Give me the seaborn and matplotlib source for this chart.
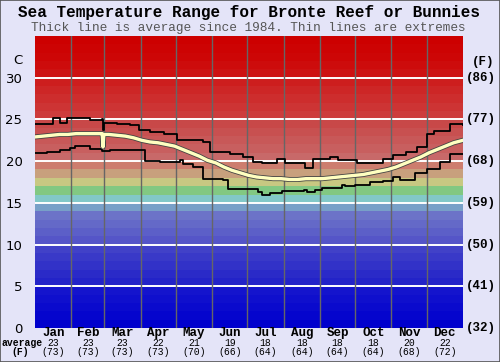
import matplotlib
matplotlib.use("Agg")
import matplotlib.pyplot as plt
import matplotlib.patheffects as pe
from matplotlib.patches import Rectangle
import seaborn as sns
import pandas as pd

# ---------------- data ----------------
months = ["Jan", "Feb", "Mar", "Apr", "May", "Jun", "Jul", "Aug", "Sep", "Oct", "Nov", "Dec"]
month_avg_c = [23, 23, 23, 22, 21, 19, 18, 18, 18, 18, 20, 22]
month_avg_f = [73, 73, 73, 73, 70, 66, 64, 64, 64, 64, 68, 72]
month_days = [31, 28, 31, 30, 31, 30, 31, 31, 30, 31, 30, 31]

c_ticks = [0, 5, 10, 15, 20, 25, 30]
f_labels = ["(32)", "(41)", "(50)", "(59)", "(68)", "(77)", "(86)"]

# average (thick line): day of year, deg C
mean_day = [0, 7, 14, 21, 28, 35, 42, 49, 56, 57.3, 58, 58.7, 63, 70, 77, 84, 91, 98, 105, 112,
            119, 126, 133, 140, 147, 154, 161, 168, 175, 182, 189, 196, 203, 210, 217,
            224, 231, 238, 245, 252, 259, 266, 273, 280, 287, 294, 301, 308, 315, 322,
            329, 336, 343, 350, 357, 365]
mean_c = [22.9, 23.0, 23.1, 23.2, 23.2, 23.3, 23.3, 23.3, 23.3, 23.3, 21.7, 23.2, 23.2, 23.1,
          23.0, 22.8, 22.5, 22.3, 22.2, 22.0, 21.8, 21.4, 21.0, 20.6, 20.1, 19.8, 19.3,
          18.9, 18.6, 18.3, 18.1, 18.0, 17.9, 17.9, 17.8, 17.8, 17.9, 17.9, 17.9, 18.0,
          18.1, 18.2, 18.3, 18.4, 18.6, 18.8, 19.0, 19.3, 19.7, 20.1, 20.5, 21.0, 21.4,
          21.8, 22.2, 22.5]

# maximum (upper thin line), stepped
max_day = [0, 15, 21, 27, 47, 57, 58, 58.8, 70, 81, 89, 98, 110, 121, 143, 149, 166, 177,
           186, 194, 206, 213, 230, 237, 252, 258, 275, 297, 305, 316, 326, 334, 340,
           354, 365]
max_c = [24.4, 25.2, 24.6, 25.2, 24.9, 25.1, 23.7, 24.6, 24.4, 24.3, 23.7, 23.5, 23.3,
         22.5, 22.3, 21.1, 20.9, 20.5, 19.9, 19.8, 20.2, 19.8, 19.2, 20.2, 20.5, 20.1,
         19.8, 20.2, 20.7, 21.1, 21.7, 23.2, 23.6, 24.4, 24.3]

# minimum (lower thin line), stepped
min_day = [0, 10, 21, 30, 34, 47, 57, 64, 94, 107, 124, 126, 135, 143, 149, 160, 165,
           190, 194, 200, 211, 229, 232, 239, 245, 262, 264, 273, 286, 297, 305, 311,
           324, 334, 345, 354, 365]
min_c = [21.0, 21.1, 21.3, 21.6, 21.8, 21.4, 21.2, 21.3, 20.0, 19.9, 20.1, 19.7, 19.3,
         17.8, 17.9, 17.7, 16.7, 16.3, 15.9, 16.2, 16.4, 16.6, 16.3, 16.6, 16.8, 17.2,
         17.0, 17.2, 17.5, 17.6, 18.1, 17.7, 18.6, 19.1, 19.9, 20.9, 20.9]

# ---------------- style ----------------
band_colors = [
    (0, 0, 205), (5, 5, 205), (10, 10, 205), (15, 15, 205), (20, 20, 205),
    (35, 35, 200), (42, 42, 200), (50, 50, 200), (57, 57, 200), (65, 65, 200),
    (85, 85, 200), (92, 95, 200), (100, 105, 200), (108, 115, 200), (120, 160, 200),
    (130, 200, 200), (130, 200, 130), (200, 200, 130), (200, 160, 125), (205, 125, 110),
    (200, 105, 105), (200, 95, 95), (200, 88, 88), (200, 80, 80), (200, 72, 72),
    (205, 60, 60), (205, 52, 52), (205, 45, 45), (205, 38, 38), (205, 30, 30),
    (205, 18, 18), (205, 12, 12), (205, 6, 6), (205, 3, 3), (205, 0, 0),
]
bg = "#e4e4f8"
W, H = 500, 362

fig = plt.figure(figsize=(W / 100, H / 100), dpi=100, facecolor=bg)
ax = fig.add_axes([35 / W, 1 - 328 / H, 428 / W, 292 / H])
ax.set_xlim(0, 365)
ax.set_ylim(0, 35)

for i, c in enumerate(band_colors):
    ax.axhspan(i, i + 1, color=tuple(v / 255 for v in c), lw=0, zorder=0)

for t in c_ticks[1:]:
    ax.axhline(t, color="white", lw=1.4, zorder=1)

edges = []
acc = 0
for d in month_days[:-1]:
    acc += d
    edges.append(acc)
for e in edges:
    ax.axvline(e, color="#666666", lw=1.0, zorder=1)

df_max = pd.DataFrame({"day": max_day, "c": max_c})
df_min = pd.DataFrame({"day": min_day, "c": min_c})
df_mean = pd.DataFrame({"day": mean_day, "c": mean_c})

sns.lineplot(data=df_max, x="day", y="c", ax=ax, color="black", lw=1.3,
             drawstyle="steps-post", zorder=3)
sns.lineplot(data=df_min, x="day", y="c", ax=ax, color="black", lw=1.3,
             drawstyle="steps-post", zorder=3)
sns.lineplot(data=df_mean, x="day", y="c", ax=ax, color="#ffffc0", lw=2.4, zorder=4,
             path_effects=[pe.Stroke(linewidth=3.6, foreground="#444444"), pe.Normal()])

for s in ax.spines.values():
    s.set_visible(False)
ax.set_xlabel("")
ax.set_ylabel("")
ax.set_xticks([])
ax.set_yticks(c_ticks)
ax.set_yticklabels([str(t) for t in c_ticks], fontsize=9.5, family="DejaVu Sans")
ax.tick_params(axis="y", length=0, pad=9)

mono = "Liberation Mono"
ax.text(-0.04, 1 - 24.5 / 292, "C", transform=ax.transAxes, ha="center", va="center",
        fontsize=9.5, family="DejaVu Sans")
for t, lab in zip(c_ticks, f_labels):
    ax.text(1.006, t, lab, transform=ax.get_yaxis_transform(), ha="left", va="center",
            fontsize=9, family=mono, weight="bold")
ax.text(1.0465, 1 - 26.5 / 292, "(F)", transform=ax.transAxes, ha="center", va="center",
        fontsize=9, family=mono, weight="bold")

starts = [0] + edges
xt = ax.get_xaxis_transform()
for m, s, d, ac, af in zip(months, starts, month_days, month_avg_c, month_avg_f):
    mid = s + d / 2
    ax.text(mid, -5 / 292, m, transform=xt, ha="center", va="center", fontsize=9,
            family=mono, weight="bold")
    ax.text(mid, -15 / 292, str(ac), transform=xt, ha="center", va="center", fontsize=7,
            family=mono)
    ax.text(mid, -24 / 292, f"({af})", transform=xt, ha="center", va="center",
            fontsize=7, family=mono)

fig.text(22 / W, 1 - 343 / H, "average", ha="center", va="center", fontsize=7,
         family=mono, weight="bold")
fig.text(20 / W, 1 - 352 / H, "(F)", ha="center", va="center", fontsize=7,
         family=mono, weight="bold")

fig.text(0.497, 1 - 12 / H, "Sea Temperature Range for Bronte Reef or Bunnies",
         ha="center", va="center", fontsize=11.5, family=mono, weight="bold")
fig.text(0.497, 1 - 28 / H,
         "Thick line is average since 1984. Thin lines are extremes",
         ha="center", va="center", fontsize=9.2, family=mono, color="#555555")

fig.patches.append(Rectangle((0, 0), 1, 1, transform=fig.transFigure, fill=False,
                             edgecolor="#555555", lw=1.2))

fig.savefig("out.png", dpi=100, facecolor=bg)
